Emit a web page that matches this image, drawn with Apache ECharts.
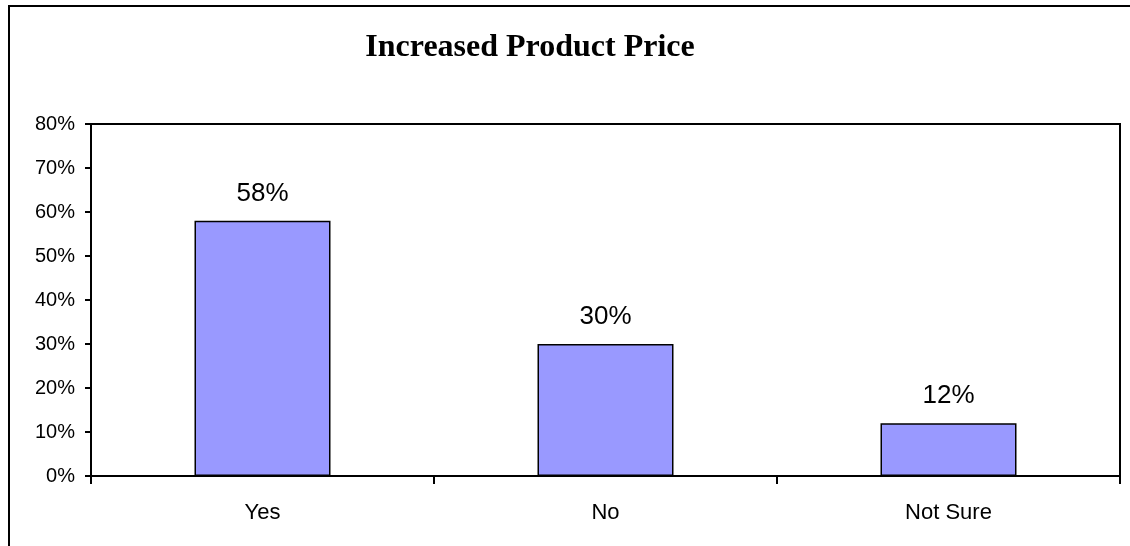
<!DOCTYPE html>
<html>
<head>
<meta charset="utf-8">
<script src="https://cdn.jsdelivr.net/npm/echarts@6/dist/echarts.min.js"></script>
<style>
  html, body { margin: 0; padding: 0; background: #fff; }
  #chart { width: 1130px; height: 546px; }
</style>
</head>
<body>
<div id="chart"></div>
<script>
// Survey answers and their shares (percent)
const categories = ['Yes', 'No', 'Not Sure'];
const shares = [58, 30, 12];
const yTicks = [0, 10, 20, 30, 40, 50, 60, 70, 80];

const chart = echarts.init(document.getElementById('chart'), null, { renderer: 'canvas' });

chart.setOption({
  backgroundColor: '#ffffff',
  animation: false,
  title: {
    text: 'Increased Product Price',
    left: 525,
    top: 27,
    textAlign: 'center',
    textStyle: {
      fontFamily: '"Liberation Serif", "Times New Roman", serif',
      fontWeight: 'bold',
      fontSize: 32,
      color: '#000'
    }
  },
  graphic: [
    {
      type: 'rect',
      shape: { x: 9, y: 6, width: 1200, height: 600 },
      style: { fill: 'none', stroke: '#000', lineWidth: 2 },
      silent: true
    }
  ],
  grid: {
    left: 91,
    right: 10,
    top: 124,
    bottom: 70,
    show: true,
    borderColor: '#000',
    borderWidth: 2,
    backgroundColor: 'transparent'
  },
  xAxis: {
    type: 'category',
    data: categories,
    axisLine: { show: true, lineStyle: { color: '#000', width: 2 } },
    axisTick: { show: true, length: 8, lineStyle: { color: '#000', width: 2 } },
    axisLabel: {
      margin: 26,
      fontFamily: '"Liberation Sans", Arial, sans-serif',
      fontSize: 22,
      color: '#000'
    }
  },
  yAxis: {
    type: 'value',
    min: 0,
    max: 80,
    interval: 10,
    axisLine: { show: true, lineStyle: { color: '#000', width: 2 } },
    axisTick: { show: true, length: 6, lineStyle: { color: '#000', width: 2 } },
    splitLine: { show: false },
    axisLabel: {
      margin: 16,
      fontFamily: '"Liberation Sans", Arial, sans-serif',
      fontSize: 20,
      color: '#000',
      formatter: function (v) { return yTicks.indexOf(v) >= 0 ? v + '%' : ''; }
    }
  },
  series: [
    {
      type: 'bar',
      data: shares,
      barWidth: 136,
      itemStyle: { color: '#9999ff', borderColor: '#000', borderWidth: 1.5 },
      label: {
        show: true,
        position: 'top',
        distance: 14,
        formatter: '{c}%',
        fontFamily: '"Liberation Sans", Arial, sans-serif',
        fontSize: 26,
        color: '#000'
      }
    }
  ]
});
</script>
</body>
</html>
